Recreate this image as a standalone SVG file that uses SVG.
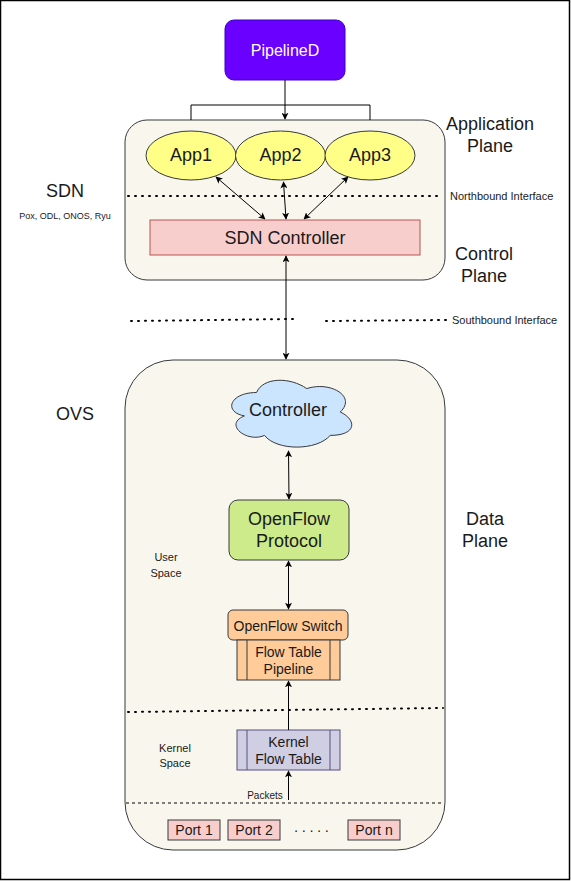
<svg xmlns="http://www.w3.org/2000/svg" width="571" height="881" viewBox="0 0 571 881">
<defs>
<marker id="ah" viewBox="0 0 10 10" refX="9" refY="5" markerWidth="7" markerHeight="7" markerUnits="userSpaceOnUse" orient="auto-start-reverse">
<path d="M0,0 L10,5 L0,10 L2.5,5 Z" fill="#000"/>
</marker>
<style>
text{font-family:"Liberation Sans",Arial,sans-serif;fill:#1a1a1a;text-anchor:middle;dominant-baseline:central}
.cont{fill:#f9f7ed;stroke:#36393d;stroke-width:1}
.con{fill:none;stroke:#000;stroke-width:1}
.dot{fill:none;stroke:#000;stroke-width:2;stroke-dasharray:1 6;stroke-linecap:round}
.app{fill:#ffff88;stroke:#36393d}
.pink{fill:#f8cecc;stroke:#b85450}
.port{fill:#f8cecc;stroke:#36393d}
.lbl{font-size:18px}
.small{font-size:11px}
</style>
</defs>
<rect x="0.5" y="0.5" width="569" height="879" fill="#fff" stroke="#000" stroke-width="1.5"/>

<g id="app-container"><rect class="cont" x="125" y="120" width="320" height="160" rx="22"/></g>
<g id="ovs-container"><rect class="cont" x="125" y="360" width="320" height="490" rx="48"/></g>

<g id="labels">
<text x="490" y="124" class="lbl">Application</text>
<text x="490" y="146" class="lbl">Plane</text>
<text x="484" y="254" class="lbl">Control</text>
<text x="484" y="276" class="lbl">Plane</text>
<text x="485" y="519" class="lbl">Data</text>
<text x="485" y="541" class="lbl">Plane</text>
<text x="65" y="191" class="lbl">SDN</text>
<text x="65" y="216" style="font-size:9px">Pox, ODL, ONOS, Ryu</text>
<text x="75" y="414" class="lbl">OVS</text>
<text x="166" y="557" style="font-size:11px">User</text>
<text x="166" y="573" style="font-size:11px">Space</text>
<text x="175" y="748" style="font-size:11px">Kernel</text>
<text x="175" y="763" style="font-size:11px">Space</text>
<text x="450" y="196" class="small" style="text-anchor:start">Northbound Interface</text>
<text x="452" y="320" class="small" style="text-anchor:start">Southbound Interface</text>
<text x="265" y="795" style="font-size:10px">Packets</text>
<text x="313" y="830" style="font-size:14px;letter-spacing:3px">·····</text>
</g>

<g id="dividers">
<line class="dot" x1="128" y1="196" x2="443" y2="196"/>
<line class="dot" x1="131" y1="321" x2="293" y2="319"/>
<line class="dot" x1="326" y1="321" x2="447" y2="320"/>
<line class="dot" x1="128" y1="712" x2="443" y2="708"/>
<line x1="126" y1="803" x2="444" y2="803" stroke="#000" stroke-dasharray="3 3"/>
</g>

<g id="pipelined">
<rect x="225" y="20" width="120" height="60" rx="9" fill="#6a00ff" stroke="#3700cc"/>
<text x="285" y="50" style="font-size:16px;fill:#fff">PipelineD</text>
</g>

<g id="app1"><ellipse class="app" cx="191" cy="155.5" rx="45" ry="24.5"/><text x="191" y="155" class="lbl">App1</text></g>
<g id="app2"><ellipse class="app" cx="280.5" cy="155.5" rx="45" ry="24.5"/><text x="280.5" y="155" class="lbl">App2</text></g>
<g id="app3"><ellipse class="app" cx="370" cy="155.5" rx="45" ry="24.5"/><text x="370" y="155" class="lbl">App3</text></g>

<g id="sdn-controller">
<rect class="pink" x="150" y="220" width="270" height="35"/>
<text x="285" y="238" style="font-size:18px">SDN Controller</text>
</g>

<g id="controller-cloud">
<path d="M256.5,392.5 C229.7,392.5 223,412 244.4,415.9 C223,424.5 247.1,443.2 264.5,435.4 C276.6,451 316.8,451 330.2,435.4 C357,435.4 357,419.8 340.25,412 C357,396.4 330.2,380.8 306.75,388.6 C290,376.9 263.2,376.9 256.5,392.5 Z" fill="#cce5ff" stroke="#36393d"/>
<text x="288" y="410" class="lbl">Controller</text>
</g>

<g id="openflow-protocol">
<rect x="229" y="500" width="120" height="60" rx="9" fill="#cdeb8b" stroke="#36393d"/>
<text x="289" y="519" class="lbl">OpenFlow</text>
<text x="289" y="541" class="lbl">Protocol</text>
</g>

<g id="openflow-switch">
<rect x="228" y="610" width="120" height="30" rx="5" fill="#ffcc99" stroke="#36393d"/>
<text x="288" y="626" style="font-size:14px">OpenFlow Switch</text>
</g>

<g id="flow-table-pipeline">
<rect x="237" y="640" width="103" height="40" fill="#ffcc99" stroke="#36393d"/>
<line x1="247" y1="640" x2="247" y2="680" stroke="#36393d"/>
<line x1="330" y1="640" x2="330" y2="680" stroke="#36393d"/>
<text x="288.5" y="652" style="font-size:14px">Flow Table</text>
<text x="288.5" y="669" style="font-size:14px">Pipeline</text>
</g>

<g id="kernel-flow-table">
<rect x="237" y="730" width="103" height="40" fill="#d0cee2" stroke="#56517e"/>
<line x1="247" y1="730" x2="247" y2="770" stroke="#56517e"/>
<line x1="330" y1="730" x2="330" y2="770" stroke="#56517e"/>
<text x="288.5" y="742" style="font-size:14px">Kernel</text>
<text x="288.5" y="759" style="font-size:14px">Flow Table</text>
</g>

<g id="port1"><rect class="port" x="168" y="820" width="52" height="20"/><text x="194" y="830" style="font-size:14px">Port 1</text></g>
<g id="port2"><rect class="port" x="228" y="820" width="52" height="20"/><text x="254" y="830" style="font-size:14px">Port 2</text></g>
<g id="portn"><rect class="port" x="348" y="820" width="52" height="20"/><text x="374" y="830" style="font-size:14px">Port n</text></g>

<g id="connectors">
<line class="con" x1="285" y1="80" x2="285" y2="119" marker-end="url(#ah)"/>
<polyline class="con" points="191,120 191,105 370,105 370,120"/>
<line class="con" x1="216" y1="177" x2="265" y2="219" marker-start="url(#ah)" marker-end="url(#ah)"/>
<line class="con" x1="283.5" y1="182" x2="286" y2="219" marker-start="url(#ah)" marker-end="url(#ah)"/>
<line class="con" x1="348" y1="177" x2="304" y2="219" marker-start="url(#ah)" marker-end="url(#ah)"/>
<line class="con" x1="286" y1="256" x2="286" y2="359" marker-start="url(#ah)" marker-end="url(#ah)"/>
<line class="con" x1="288.5" y1="451" x2="289" y2="499" marker-start="url(#ah)" marker-end="url(#ah)"/>
<line class="con" x1="288.5" y1="561" x2="288.5" y2="609" marker-start="url(#ah)" marker-end="url(#ah)"/>
<line class="con" x1="288.5" y1="730" x2="288.5" y2="681" marker-end="url(#ah)"/>
<line class="con" x1="288.5" y1="800" x2="288.5" y2="771" marker-end="url(#ah)"/>
</g>
</svg>
